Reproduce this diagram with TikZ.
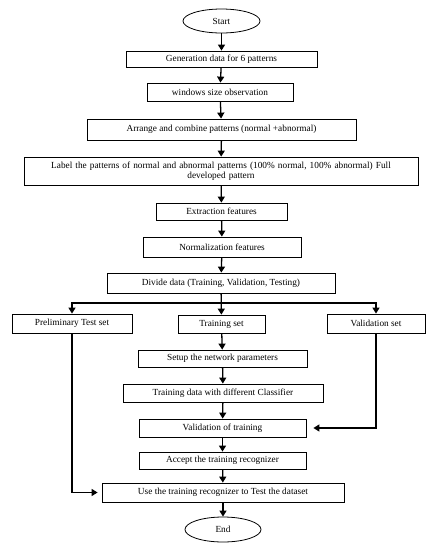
\documentclass[tikz,border=0pt]{standalone}
\usepackage{fontspec}
\setmainfont{Liberation Serif}
\usetikzlibrary{arrows.meta,shapes.geometric}
\begin{document}
\begin{tikzpicture}
[x=1pt,y=-1pt,
  boxDecorate/.style={draw,line width=0.8pt,inner sep=1pt,align=center,
    font=\fontsize{9.3}{10.5}\selectfont},
  ovalDecorate/.style={boxDecorate,ellipse},
  lineDecorate/.style={line width=1.3pt,-{Triangle[width=7pt,length=6pt]}}]
\useasboundingbox (0,0) rectangle (434,550);
%% terminals
\node (start) at (221.5,21) [ovalDecorate,minimum width=77pt,minimum height=24pt] {Start};
\node (end) at (223,529.5) [ovalDecorate,minimum width=76pt,minimum height=25pt] {End};
%% process boxes
\foreach \nodename/\x/\y/\w/\h/\label in {
  gen/221.5/59/191/16/{Generation data for 6 patterns},
  win/220/92/146/18/{windows size observation},
  arr/221.5/129.5/269/21/{Arrange and combine patterns (normal +abnormal)},
  ext/221.5/211.5/131/17/{Extraction features},
  nor/222/247/158/20/{Normalization features},
  div/221/283/228/20/{Divide data (Training, Validation, Testing)},
  pre/72/323.5/120/19/{Preliminary Test set},
  trs/221.5/324/87/18/{Training set},
  vas/376/323.5/98/19/{Validation set},
  set/222.5/358.5/169/17/{Setup the network parameters},
  trd/223/393/200/18/{Training data with different Classifier},
  vot/222.5/428/167/18/{Validation of training},
  acc/222.5/460.5/167/17/{Accept the training recognizer},
  use/223/492.5/242/19/{Use the training recognizer to Test the dataset}}
{
  \node (\nodename) at (\x,\y) [boxDecorate,minimum width=\w pt,minimum height=\h pt] {\label};
}
\node (lab) at (221,171) [boxDecorate,minimum width=394pt,minimum height=28pt,
  text width=380pt,anchor=center] {Label the patterns of normal and abnormal patterns (100\% normal, 100\% abnormal) Full\\[-1pt]developed pattern\\[5pt]};
\coordinate (split) at (222,303);
%% edges or lines
\path
\foreach \startnode/\endnode in {start/gen, gen/win, win/arr, arr/lab, lab/ext,
  ext/nor, nor/div, trs/set, set/trd, trd/vot, vot/acc, acc/use, use/end}
{
  (\startnode) edge[lineDecorate] (\endnode)
};
\draw[lineDecorate] (div) -- (trs);
\draw[lineDecorate] (split) -| (pre);
\draw[lineDecorate] (split) -| (vas);
\draw[lineDecorate,shorten >=4pt] (pre) |- (use);
\draw[lineDecorate,shorten >=7pt] (vas) |- (vot);
\end{tikzpicture}
\end{document}
